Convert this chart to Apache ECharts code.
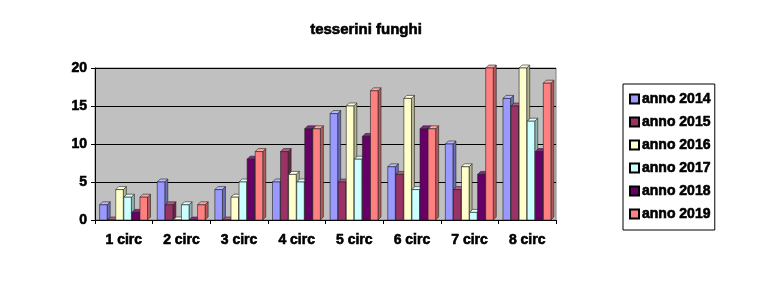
<!DOCTYPE html>
<html><head><meta charset="utf-8">
<script src="https://cdn.jsdelivr.net/npm/echarts@6/dist/echarts.min.js"></script>
<style>html,body{margin:0;padding:0;background:#fff}#c{width:777px;height:297px}</style>
</head><body><div id="c"></div>
<script>
var categories = ['1 circ','2 circ','3 circ','4 circ','5 circ','6 circ','7 circ','8 circ'];
var seriesNames = ['anno 2014','anno 2015','anno 2016','anno 2017','anno 2018','anno 2019'];
var anno2014 = [2, 5, 4, 5, 14, 7, 10, 16];
var anno2015 = [0, 2, 0, 9, 5, 6, 4, 15];
var anno2016 = [4, 0, 3, 6, 15, 16, 7, 20];
var anno2017 = [3, 2, 5, 5, 8, 4, 1, 13];
var anno2018 = [1, 0, 8, 12, 11, 12, 6, 9];
var anno2019 = [3, 2, 9, 12, 17, 12, 20, 18];
var yTicks = [0, 5, 10, 15, 20];

var values = [anno2014, anno2015, anno2016, anno2017, anno2018, anno2019];
var colors = ['#9999ff','#993366','#ffffcc','#ccffff','#660066','#ff8080'];
var sideColors = ['#6b6bb3','#6b2447','#b3b38f','#8fb3b3','#470047','#b35a5a'];
var topColors = ['#b8b8ff','#b35c85','#ffffe0','#e0ffff','#852885','#ffa6a6'];

function makeRender(si){
  return function(params, api){
    var cat = api.value(0), val = api.value(1);
    var base = api.coord([cat, 0]);
    var top = api.coord([cat, val]);
    var cw = api.size([1, 0])[0];
    var gw = cw * 0.84;
    var w = gw / 6;
    var d = 3;
    var x0 = base[0] - gw / 2 + si * w;
    var fw = w - 0.5;
    var y0 = base[1], y1 = top[1];
    var stroke = '#222';
    return {type:'group', children:[
      {type:'polygon', shape:{points:[[x0+fw,y1],[x0+fw+d,y1-d],[x0+fw+d,y0-d],[x0+fw,y0]]},
        style:{fill:sideColors[si], stroke:stroke, lineWidth:0.6}},
      {type:'polygon', shape:{points:[[x0,y1],[x0+d,y1-d],[x0+fw+d,y1-d],[x0+fw,y1]]},
        style:{fill:topColors[si], stroke:stroke, lineWidth:0.6}},
      {type:'rect', shape:{x:x0, y:y1, width:fw, height:y0-y1},
        style:{fill:colors[si], stroke:stroke, lineWidth:0.6}}
    ]};
  };
}

var series = seriesNames.map(function(n, si){
  return {
    name:n, type:'custom', renderItem: makeRender(si),
    itemStyle:{color:colors[si], borderColor:'#000', borderWidth:1},
    encode:{x:0, y:1},
    data: values[si].map(function(v, i){ return [i, v]; })
  };
});

var heavy = {fontFamily:'Arial, Liberation Sans', fontWeight:'bold', color:'#000', textBorderColor:'#000', textBorderWidth:0.6};

var chart = echarts.init(document.getElementById('c'));
chart.setOption({
  animation:false,
  title:{text:'tesserini funghi', left:361, top:17, textAlign:'center',
    textStyle:Object.assign({}, heavy, {fontSize:15})},
  grid:{left:95, right:221, top:68, bottom:77, show:true, backgroundColor:'#c0c0c0', borderColor:'#808080', borderWidth:1},
  legend:{orient:'vertical', left:623, top:84, width:93, height:145,
    padding:[7,4,8,6], itemGap:7, itemWidth:9, itemHeight:9, icon:'rect',
    borderColor:'#000', borderWidth:1,
    data: seriesNames,
    textStyle:Object.assign({}, heavy, {fontSize:14, lineHeight:16, padding:[0,0,0,-2]})},
  xAxis:{type:'category', data:categories, boundaryGap:true,
    axisLine:{lineStyle:{color:'#000'}}, axisTick:{show:true, interval:0, length:4, lineStyle:{color:'#000'}},
    axisLabel:Object.assign({}, heavy, {margin:13, fontSize:14})},
  yAxis:{type:'value', min:0, max:20, interval:5,
    axisLine:{show:true, lineStyle:{color:'#000'}}, axisTick:{show:true, length:4, lineStyle:{color:'#000'}},
    splitLine:{show:true, lineStyle:{color:'#000', width:1}},
    axisLabel:Object.assign({}, heavy, {margin:8, fontSize:14,
      formatter:function(v){ return yTicks.indexOf(v) >= 0 ? String(v) : ''; }})},
  series: series
});
</script></body></html>
